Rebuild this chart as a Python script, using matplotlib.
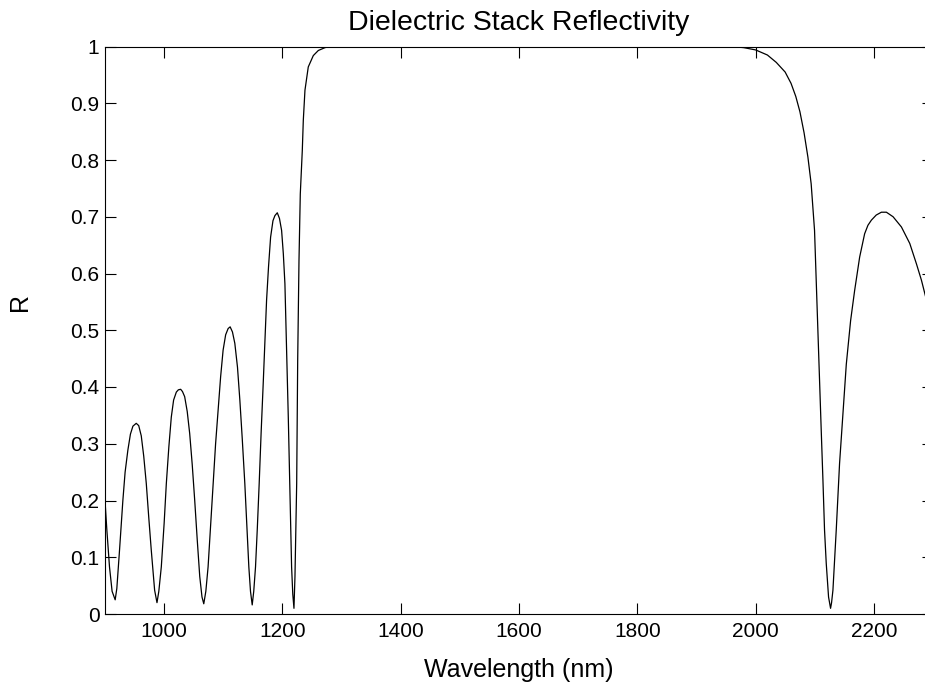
import matplotlib

matplotlib.use("Agg")
import matplotlib.pyplot as plt

# wavelength (nm) and reflectance
wavelength = [
    900.0, 903.0, 907.6, 912.0, 917.2, 920.0, 924.6, 930.2, 934.0, 938.7,
    943.0, 947.2, 952.8, 957.0, 961.3, 965.5, 969.8, 974.0, 978.2, 983.9,
    987.9, 991.0, 995.2, 1000.0, 1003.7, 1008.0, 1012.1, 1016.0, 1020.6, 1024.0,
    1027.9, 1031.0, 1034.7, 1039.0, 1043.2, 1047.5, 1051.7, 1056.0, 1060.2, 1064.0,
    1067.0, 1070.5, 1074.3, 1078.5, 1082.8, 1087.0, 1091.3, 1095.5, 1099.7, 1104.0,
    1108.2, 1111.6, 1115.5, 1119.5, 1124.0, 1128.0, 1132.0, 1136.4, 1140.0, 1143.2,
    1146.0, 1148.9, 1151.5, 1154.5, 1157.5, 1160.7, 1164.0, 1167.5, 1170.5, 1173.2,
    1176.5, 1180.0, 1184.0, 1187.3, 1191.3, 1195.0, 1198.6, 1201.5, 1204.2, 1207.0,
    1209.9, 1213.0, 1215.5, 1217.5, 1219.5, 1221.2, 1224.1, 1225.8, 1228.0, 1230.2,
    1233.6, 1235.3, 1238.1, 1243.7, 1252.2, 1260.7, 1272.0, 1280.5, 1400.0, 1600.0,
    1800.0, 1960.0, 1980.0, 2000.0, 2020.0, 2035.0, 2050.0, 2060.0, 2068.0, 2075.0,
    2082.0, 2088.5, 2094.0, 2097.0, 2099.7, 2102.5, 2105.4, 2108.1, 2111.0, 2113.9,
    2116.6, 2119.5, 2123.4, 2126.8, 2128.5, 2130.8, 2136.4, 2142.0, 2147.8, 2153.4,
    2160.7, 2167.5, 2176.0, 2184.4, 2190.0, 2195.8, 2204.0, 2212.7, 2221.2, 2232.5,
    2246.6, 2260.7, 2272.0, 2280.5, 2289.0, 2300.0,
]
reflectance = [
    0.200, 0.150, 0.083, 0.040, 0.025, 0.045, 0.113, 0.200, 0.250, 0.289,
    0.317, 0.331, 0.336, 0.332, 0.314, 0.278, 0.230, 0.170, 0.113, 0.042,
    0.020, 0.040, 0.083, 0.160, 0.230, 0.295, 0.347, 0.377, 0.391, 0.395,
    0.396, 0.392, 0.383, 0.357, 0.318, 0.263, 0.200, 0.130, 0.066, 0.030,
    0.018, 0.040, 0.083, 0.155, 0.230, 0.300, 0.359, 0.418, 0.465, 0.492,
    0.503, 0.506, 0.497, 0.477, 0.435, 0.377, 0.310, 0.230, 0.150, 0.083,
    0.040, 0.016, 0.040, 0.083, 0.150, 0.230, 0.320, 0.406, 0.485, 0.553,
    0.612, 0.664, 0.693, 0.702, 0.707, 0.697, 0.676, 0.635, 0.582, 0.470,
    0.347, 0.200, 0.083, 0.035, 0.010, 0.066, 0.230, 0.447, 0.623, 0.740,
    0.817, 0.870, 0.923, 0.964, 0.984, 0.993, 0.998, 1.000, 1.000, 1.000,
    1.000, 1.000, 0.998, 0.994, 0.985, 0.972, 0.955, 0.935, 0.912, 0.885,
    0.848, 0.805, 0.758, 0.715, 0.676, 0.588, 0.500, 0.412, 0.324, 0.236,
    0.148, 0.089, 0.030, 0.010, 0.020, 0.042, 0.148, 0.265, 0.353, 0.440,
    0.517, 0.570, 0.629, 0.670, 0.685, 0.694, 0.703, 0.708, 0.708, 0.700,
    0.682, 0.653, 0.617, 0.588, 0.553, 0.510,
]

x_ticks = [1000, 1200, 1400, 1600, 1800, 2000, 2200]
y_ticks = [0, 0.1, 0.2, 0.3, 0.4, 0.5, 0.6, 0.7, 0.8, 0.9, 1]
y_tick_labels = ["0", "0.1", "0.2", "0.3", "0.4", "0.5", "0.6", "0.7", "0.8", "0.9", "1"]

plt.rcParams["font.family"] = ["Liberation Sans", "DejaVu Sans"]

fig = plt.figure(figsize=(9.25, 6.9), dpi=100)
# axes run slightly past the right edge, as in the cropped original
ax = fig.add_axes([105 / 925, 76 / 690, 828 / 925, 567.5 / 690])

ax.plot(wavelength, reflectance, color="black", linewidth=0.9)

ax.set_xlim(900, 2300)
ax.set_ylim(0, 1)
ax.set_xticks(x_ticks)
ax.set_yticks(y_ticks)
ax.set_yticklabels(y_tick_labels)
ax.tick_params(direction="in", length=8, width=0.8, top=True, right=True,
               labelsize=15)
ax.tick_params(axis="x", pad=5.5)
ax.tick_params(axis="y", pad=4)
for s in ax.spines.values():
    s.set_linewidth(0.8)

ax.set_title("Dielectric Stack Reflectivity", fontsize=20.5, pad=12)
ax.set_xlabel("Wavelength (nm)", fontsize=18, labelpad=12.5)
ax.set_ylabel("R", fontsize=18)
ax.yaxis.set_label_coords(-0.088, 0.55)

fig.savefig("out.png", dpi=100)
plt.close(fig)
